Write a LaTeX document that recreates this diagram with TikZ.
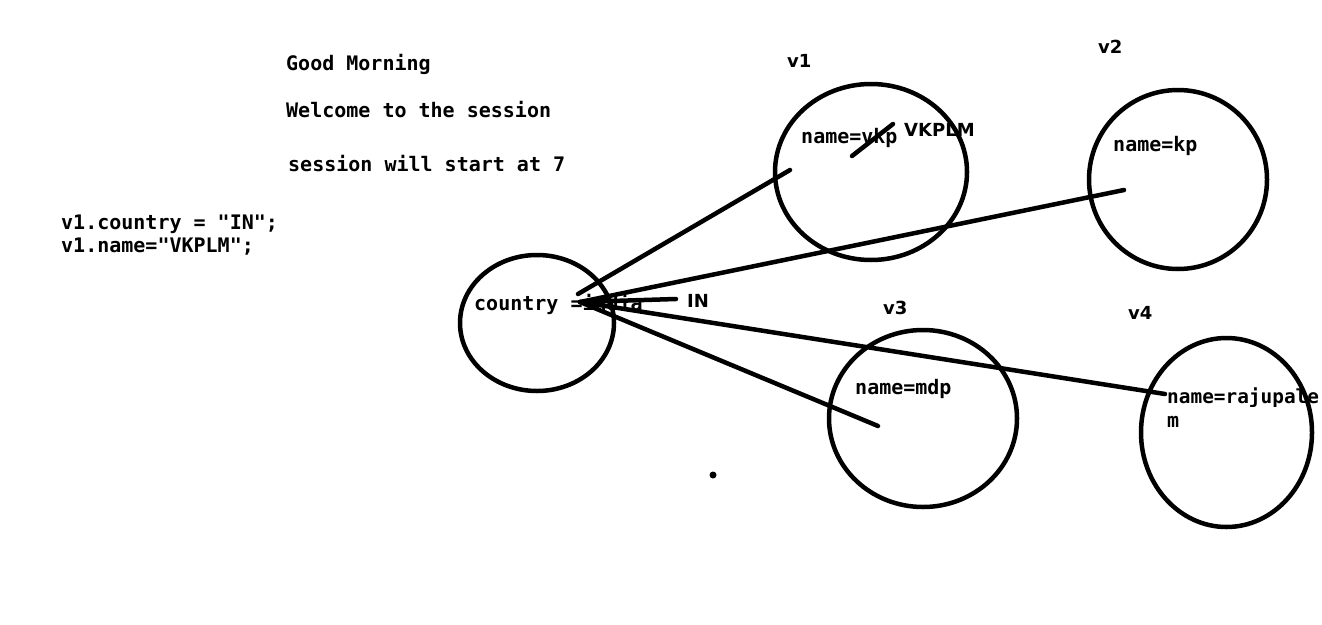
\documentclass[tikz,border=0pt]{standalone}
\usepackage{fontspec}
\setmonofont{DejaVu Sans Mono}
\newfontfamily\tagfont{DejaVu Sans}
\usetikzlibrary{shapes.geometric}

\tikzset{
  code/.style={anchor=base west, inner sep=0pt, font=\ttfamily\bfseries\fontsize{20}{24}\selectfont},
  tag/.style={anchor=base west, inner sep=0pt, font=\tagfont\bfseries\fontsize{18}{22}\selectfont},
  blob/.style={draw, ellipse, line width=4.5pt, inner sep=0pt},
  wire/.style={line width=4.5pt, line cap=round},
}

\begin{document}
\begin{tikzpicture}[x=1pt,y=-1pt]
\useasboundingbox (0,0) rectangle (1322,624);

%%% notes
\node[code] (hello) at (286,70) {Good Morning};
\node[code] (welcome) at (286,117) {Welcome to the session};
\node[code] (start) at (288,171) {session will start at 7};

\node[code] (set1) at (61,229) {v1.country = "IN";};
\node[code] (set2) at (61,252) {v1.name="VKPLM";};

%%% objects
\node[blob, minimum width=154, minimum height=136] (proto) at (537,323) {};
\node[blob, minimum width=192, minimum height=176] (v1) at (871,172) {};
\node[blob, minimum width=178, minimum height=179] (v2) at (1178,179.5) {};
\node[blob, minimum width=188, minimum height=177] (v3) at (923,418.5) {};
\node[blob, minimum width=171, minimum height=189] (v4) at (1226.5,432.5) {};

\node[tag] (v1lbl) at (787,67) {v1};
\node[tag] (v2lbl) at (1098,53) {v2};
\node[tag] (v3lbl) at (883,314) {v3};
\node[tag] (v4lbl) at (1128,319) {v4};

\node[code] (country) at (474,310) {country =india};
\node[tag] (inval) at (687,307) {IN};

\node[code] (n1) at (801,143) {name=vkp};
\node[tag] (n1new) at (904,136) {VKPLM};
\node[code] (n2) at (1113,151) {name=kp};
\node[code] (n3) at (855,394) {name=mdp};
\node[code, font=\ttfamily\bfseries\fontsize{19.4}{24}\selectfont] (n4) at (1167,403) {name=rajupale};
\node[code] (n4b) at (1167,427) {m};

%%% links
\coordinate (hub) at (580,302);
\coordinate (e1) at (790,170);
\coordinate (e2) at (1124,190);
\coordinate (e3) at (878,426);
\coordinate (e4) at (1165,394);
\coordinate (x1) at (676,299);
\coordinate (s1) at (852,156);
\coordinate (s2) at (893,124);

\draw[wire] (hub) -- (x1);
\draw[wire] (578,294) -- (e1);
\draw[wire] (hub) -- (e2);
\draw[wire] (hub) -- (e3);
\draw[wire] (hub) -- (e4);
\draw[wire] (s1) -- (s2);

\fill (713,475) circle (3.5);
\end{tikzpicture}
\end{document}
